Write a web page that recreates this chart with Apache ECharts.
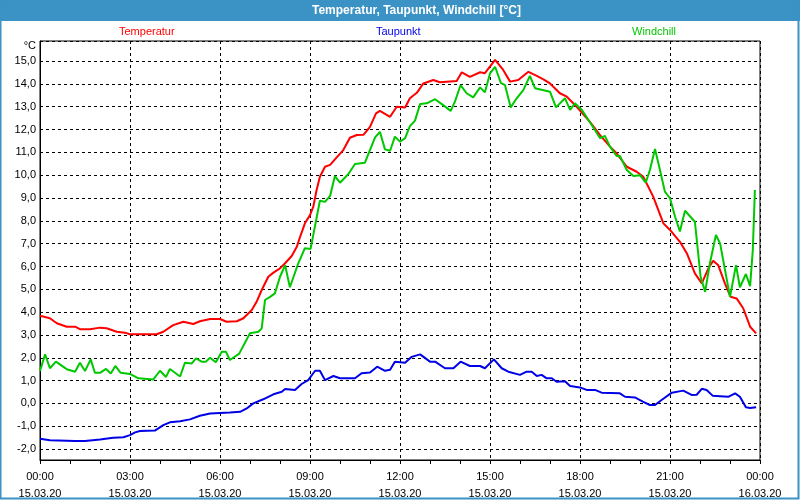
<!DOCTYPE html>
<html>
<head>
<meta charset="utf-8">
<script src="https://cdn.jsdelivr.net/npm/echarts@6/dist/echarts.min.js"></script>
<style>html,body{margin:0;padding:0;background:#fff}#c{width:800px;height:500px}</style>
</head>
<body>
<div id="c"></div>
<script>
// time in hours since 15.03.20 00:00
const tempHours = [0,0.33,0.56,0.89,1.17,1.33,1.67,2.0,2.22,2.56,2.83,3.0,3.89,4.11,4.44,4.78,5.11,5.33,5.67,6.0,6.22,6.56,6.78,7.06,7.22,7.39,7.61,7.78,8.0,8.17,8.39,8.56,8.67,8.83,9.0,9.11,9.22,9.33,9.5,9.67,9.89,10.11,10.33,10.56,10.78,11.0,11.2,11.33,11.67,11.89,12.17,12.33,12.56,12.78,13.11,13.33,13.89,14.06,14.33,14.67,14.83,15.17,15.44,15.67,15.94,16.28,16.56,16.78,17.0,17.33,17.56,17.89,18.33,18.67,19.0,19.22,19.56,19.89,20.11,20.44,20.78,21.0,21.33,21.56,21.83,22.06,22.28,22.44,22.61,22.83,23.02,23.22,23.44,23.67,23.87];
const tempValues = [3.84,3.73,3.51,3.36,3.36,3.25,3.25,3.32,3.29,3.14,3.10,3.03,3.03,3.14,3.43,3.58,3.48,3.60,3.70,3.70,3.58,3.60,3.73,4.09,4.45,4.97,5.55,5.73,5.92,6.14,6.46,6.86,7.30,7.89,8.25,8.62,9.35,9.93,10.37,10.45,10.78,11.10,11.64,11.76,11.77,12.12,12.71,12.82,12.56,13.0,12.97,13.37,13.61,14.02,14.17,14.07,14.13,14.51,14.31,14.51,14.47,15.05,14.61,14.10,14.17,14.53,14.35,14.2,14.02,13.59,13.44,13.0,12.34,11.76,11.25,10.96,10.37,10.15,9.93,9.06,7.89,7.60,7.08,6.58,5.70,5.26,5.92,6.25,6.05,5.26,4.67,4.6,4.17,3.36,3.07];

const dewHours = [0,0.33,1.17,1.5,2.0,2.44,2.78,3.0,3.17,3.33,3.83,4.11,4.33,4.67,5.0,5.33,5.67,6.33,6.67,6.89,7.11,7.44,7.78,8.06,8.17,8.5,8.72,8.94,9.17,9.33,9.5,9.78,10.0,10.5,10.72,11.0,11.24,11.5,11.67,11.83,12.17,12.39,12.67,13.0,13.17,13.5,13.78,14.02,14.33,14.67,14.83,15.13,15.39,15.61,16.0,16.22,16.39,16.56,16.72,16.89,17.06,17.22,17.5,17.67,18.0,18.22,18.5,18.72,19.33,19.5,19.83,20.11,20.33,20.5,20.72,21.06,21.44,21.72,21.89,22.06,22.22,22.42,22.94,23.17,23.33,23.53,23.67,23.87];
const dewValues = [-1.55,-1.61,-1.65,-1.65,-1.58,-1.50,-1.48,-1.39,-1.27,-1.21,-1.19,-0.95,-0.83,-0.78,-0.70,-0.54,-0.44,-0.40,-0.37,-0.22,0.0,0.18,0.40,0.51,0.63,0.59,0.85,1.02,1.43,1.43,1.02,1.20,1.10,1.10,1.32,1.35,1.61,1.43,1.47,1.83,1.78,2.04,2.15,1.83,1.83,1.54,1.54,1.83,1.64,1.64,1.54,1.93,1.54,1.39,1.25,1.39,1.39,1.20,1.25,1.10,1.10,0.95,0.97,0.76,0.70,0.59,0.59,0.47,0.44,0.29,0.26,0.07,-0.07,-0.07,0.15,0.47,0.56,0.37,0.38,0.64,0.59,0.34,0.29,0.44,0.29,-0.17,-0.2,-0.17];

const chillHours = [0,0.17,0.33,0.53,0.89,1.17,1.33,1.5,1.69,1.83,2.0,2.2,2.36,2.51,2.69,3.0,3.28,3.78,4.0,4.2,4.33,4.67,4.83,5.06,5.2,5.39,5.53,5.67,5.86,6.06,6.2,6.33,6.64,7.0,7.28,7.39,7.5,7.67,7.83,8.0,8.17,8.33,8.61,8.83,9.02,9.33,9.5,9.67,9.83,10.0,10.28,10.5,10.83,11.17,11.33,11.5,11.67,11.83,12.0,12.17,12.33,12.5,12.67,12.89,13.17,13.44,13.69,13.83,14.02,14.22,14.44,14.67,14.83,15.0,15.17,15.36,15.5,15.69,15.89,16.11,16.33,16.5,17.0,17.2,17.5,17.67,17.83,18.06,18.39,18.67,18.83,19.0,19.22,19.33,19.56,19.78,20.0,20.19,20.33,20.5,20.64,20.83,21.0,21.17,21.33,21.5,21.83,22.02,22.17,22.33,22.53,22.67,23.0,23.2,23.33,23.53,23.67,23.76,23.83];
const chillValues = [1.42,2.15,1.54,1.83,1.50,1.39,1.78,1.42,1.93,1.34,1.34,1.51,1.31,1.64,1.34,1.29,1.10,1.05,1.43,1.16,1.51,1.18,1.78,1.75,1.97,1.83,1.83,2.0,1.8,2.26,2.26,1.9,2.18,3.07,3.14,3.29,4.53,4.67,4.82,5.55,6.06,5.09,6.14,6.80,6.77,8.88,8.83,9.09,9.96,9.67,10.05,10.49,10.55,11.66,11.90,11.13,11.07,11.69,11.47,11.62,12.15,12.39,13.12,13.15,13.33,13.07,12.82,13.22,13.95,13.59,13.41,13.85,13.63,14.46,14.75,14.05,13.95,12.97,13.37,13.73,14.35,13.81,13.66,12.97,13.37,12.86,13.15,12.86,12.2,11.62,11.72,11.25,10.84,10.84,10.23,9.96,10.0,9.67,10.23,11.15,10.37,9.28,8.99,8.18,7.53,8.44,7.96,5.55,4.89,6.14,7.38,7.01,4.67,6.06,5.09,5.67,5.14,6.72,9.35];

const xTickHours = [0,3,6,9,12,15,18,21,24];
const seriesNames = ['Temperatur','Taupunkt','Windchill'];
const seriesColors = ['#ff0000','#0000e6','#00c800'];

function zip(h, v){ return h.map((x,i)=>[x, v[i]]); }
function pad(n){ return (n<10?'0':'')+n; }

const FONT = 'Liberation Sans';
const chart = echarts.init(document.getElementById('c'), null, {renderer:'canvas'});

const legendLefts = [114, 371, 627];

chart.setOption({
  animation: false,
  backgroundColor: '#ffffff',
  textStyle: {fontFamily: FONT},
  title: {
    text: 'Temperatur, Taupunkt, Windchill [°C]',
    left: 312, top: 5, padding: 0,
    textStyle: {color:'#ffffff', fontWeight:'bold', fontSize:12, fontFamily: FONT}
  },
  graphic: [
    {type:'rect', z:-10, silent:true, shape:{x:0,y:0,width:800,height:21}, style:{fill:'#3b92c4'}},
    {type:'rect', z:-10, silent:true, shape:{x:0.5,y:0.5,width:798,height:498}, style:{fill:null, stroke:'#3b92c4', lineWidth:2}}
  ],
  legend: seriesNames.map((n,i)=>({
    data: [{name:n, icon:'none', textStyle:{color:seriesColors[i]}}],
    left: legendLefts[i], top: 25, padding: 0, itemWidth: 0, itemHeight: 14,
    selectedMode: false,
    textStyle: {fontSize: 11, fontFamily: FONT}
  })),
  grid: {left:40, right:40, top:41, bottom:40, outerBoundsMode:'none', containLabel:false, show:true, borderColor:'#000', borderWidth:1, backgroundColor:'#fff'},
  xAxis: {
    type:'value', min:0, max:24, interval:3,
    axisLine:{show:true, onZero:false, lineStyle:{color:'#000', width:1}},
    axisTick:{show:true, length:4, lineStyle:{color:'#000'}},
    minorTick:{show:true, splitNumber:3, length:4, lineStyle:{color:'#000'}},
    splitLine:{show:true, lineStyle:{color:'#000', type:[3,3], width:1}},
    axisLabel:{
      color:'#000', fontSize:11, fontFamily:FONT, margin:8, lineHeight:17,
      formatter: v => pad(v%24)+':00\n'+(v>=24?'16.03.20':'15.03.20')
    }
  },
  yAxis: {
    type:'value', min:-2.48, max:15.88, splitNumber:18,
    name:'°C', nameLocation:'end', nameGap:-5,
    nameTextStyle:{color:'#000', fontSize:11, fontFamily:FONT, align:'right', verticalAlign:'middle', padding:[0,4,0,0]},
    axisLine:{show:true, onZero:false, lineStyle:{color:'#000', width:1}},
    axisTick:{show:false},
    splitLine:{show:true, lineStyle:{color:'#000', type:[3,3], width:1}},
    axisLabel:{
      color:'#000', fontSize:11, fontFamily:FONT, margin:4,
      showMinLabel:false, showMaxLabel:false,
      formatter: v => Math.abs(v-Math.round(v))<1e-6 ? v.toFixed(1).replace('.',',') : ''
    }
  },
  series: [
    {name:'Temperatur', type:'line', data: zip(tempHours,tempValues), showSymbol:false, symbol:'none', lineStyle:{color:seriesColors[0], width:2}, itemStyle:{color:seriesColors[0]}, z:3},
    {name:'Taupunkt', type:'line', data: zip(dewHours,dewValues), showSymbol:false, symbol:'none', lineStyle:{color:seriesColors[1], width:2}, itemStyle:{color:seriesColors[1]}, z:3},
    {name:'Windchill', type:'line', data: zip(chillHours,chillValues), showSymbol:false, symbol:'none', lineStyle:{color:seriesColors[2], width:2}, itemStyle:{color:seriesColors[2]}, z:4}
  ]
});
</script>
</body>
</html>
